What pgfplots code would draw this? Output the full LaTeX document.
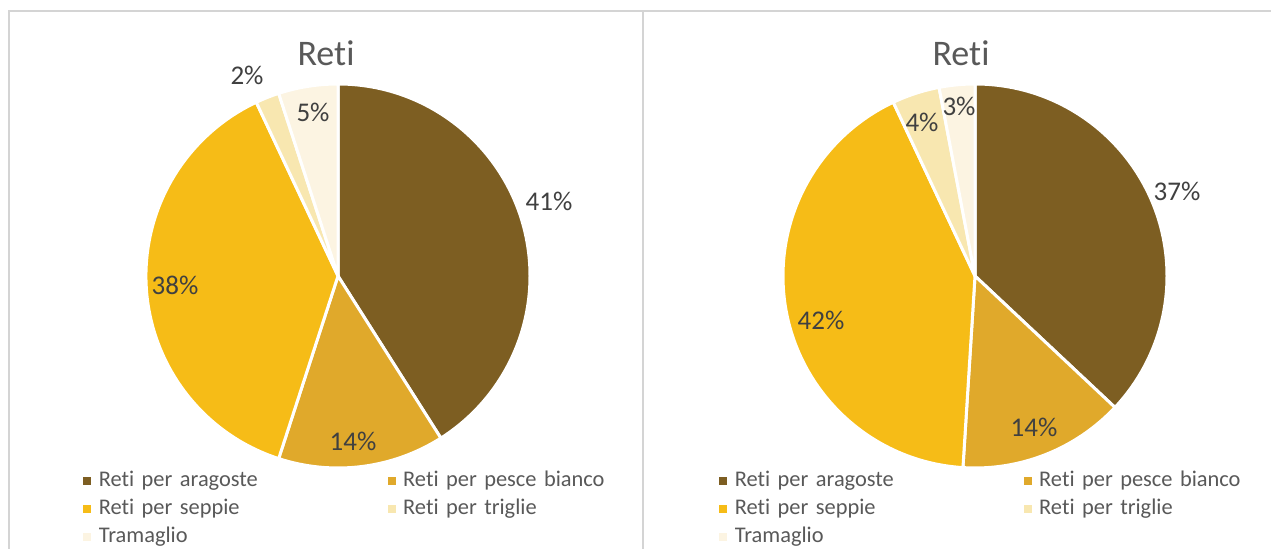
\documentclass[border=0pt]{standalone}
\usepackage{pgfplots}
\pgfplotsset{compat=1.18}
\usepackage{pgfplotstable}
\usepackage{fontspec}
\setmainfont{Carlito}[Ligatures=NoCommon, WordSpace=0.75]

\definecolor{c0}{HTML}{7D5E22}
\definecolor{c1}{HTML}{E0A92B}
\definecolor{c2}{HTML}{F6BC17}
\definecolor{c3}{HTML}{F8E7B0}
\definecolor{c4}{HTML}{FCF4E2}
\definecolor{lbl}{HTML}{404040}
\definecolor{leg}{HTML}{595959}
\definecolor{frame}{HTML}{D4D4D4}

\pgfplotstableread{
name value
aragoste 41
pesce 14
seppie 38
triglie 2
tramaglio 5
}\dataL

\pgfplotstableread{
name value
aragoste 37
pesce 14
seppie 42
triglie 4
tramaglio 3
}\dataR

% slices of a pie, clockwise from 12 o'clock; #1 table, #2 #3 centre (axis units), #4 radius
\newcommand{\pieslices}[4]{%
  \def\acc{90}%
  \pgfplotsforeachungrouped \i in {0,...,4}{%
    \pgfplotstablegetelem{\i}{value}\of{#1}%
    \pgfmathsetmacro\endang{\acc-3.6*\pgfplotsretval}%
    \edef\temp{\noexpand\fill[c\i, draw=white, line width=1.5pt, line join=round]
      (axis cs:#2,#3) -- ++(\acc:#4) arc[start angle=\acc, end angle=\endang, radius=#4] -- cycle;}%
    \temp
    \let\acc\endang
  }%
}

\tikzset{
  pct/.style={font=\fontsize{13.5}{15}\selectfont, text=lbl},
  ttl/.style={font=\fontsize{18}{21}\selectfont, text=leg},
}

\pgfplotsset{
  piepanel/.style={
    hide axis, scale only axis, x=0.5pt, y=0.5pt,
    ymin=0, ymax=549, y dir=reverse, clip=false,
    anchor=south west,
    legend columns=2,
    legend image code/.code={\fill[##1] (0pt,-1.7pt) rectangle (3.4pt,1.7pt);},
    legend style={draw=none, fill=none, inner sep=0pt, anchor=north west,
      font=\fontsize{11.2}{13}\selectfont, text=leg, row sep=1.5pt,
      nodes={inner xsep=0pt, inner ysep=1pt, text height=8pt, text depth=2.5pt, text width=140pt, align=left},
      /tikz/every odd column/.append style={column sep=3.9pt},
      /tikz/every even column/.append style={column sep=4.5pt}},
  },
}

\begin{document}
\begin{tikzpicture}
\path[fill=white, use as bounding box] (0,0) rectangle (635.5pt,274.5pt);

% left panel
\begin{axis}[piepanel, xmin=0, xmax=643, at={(0pt,0pt)},
  legend style={at={(axis cs:83,468)}}]
  \draw[frame, line width=1pt] (axis cs:9,549) -- (axis cs:9,11) -- (axis cs:643,11) -- (axis cs:643,549);
  \pieslices{\dataL}{338}{276}{96pt}
  \node[ttl] at (axis cs:326,53) {Reti};
  \node[pct] at (axis cs:549,201) {41\%};
  \node[pct] at (axis cs:353,441) {14\%};
  \node[pct] at (axis cs:175,285) {38\%};
  \node[pct] at (axis cs:247,75) {2\%};
  \node[pct] at (axis cs:313,112) {5\%};
  \addlegendimage{c0}
  \addlegendimage{c1}
  \addlegendimage{c2}
  \addlegendimage{c3}
  \addlegendimage{c4}
  \legend{Reti per aragoste, Reti per pesce bianco, Reti per seppie, Reti per triglie, Tramaglio}
\end{axis}

% right panel
\begin{axis}[piepanel, xmin=643, xmax=1271, at={(321.5pt,0pt)},
  legend style={at={(axis cs:719,468)}}]
  \draw[frame, line width=1pt] (axis cs:643,11) -- (axis cs:1271,11);
  \pieslices{\dataR}{975}{276}{96pt}
  \node[ttl] at (axis cs:961,53) {Reti};
  \node[pct] at (axis cs:1177,191) {37\%};
  \node[pct] at (axis cs:1034,427) {14\%};
  \node[pct] at (axis cs:821,320) {42\%};
  \node[pct] at (axis cs:922,122) {4\%};
  \node[pct] at (axis cs:959,106) {3\%};
  \addlegendimage{c0}
  \addlegendimage{c1}
  \addlegendimage{c2}
  \addlegendimage{c3}
  \addlegendimage{c4}
  \legend{Reti per aragoste, Reti per pesce bianco, Reti per seppie, Reti per triglie, Tramaglio}
\end{axis}
\end{tikzpicture}
\end{document}
